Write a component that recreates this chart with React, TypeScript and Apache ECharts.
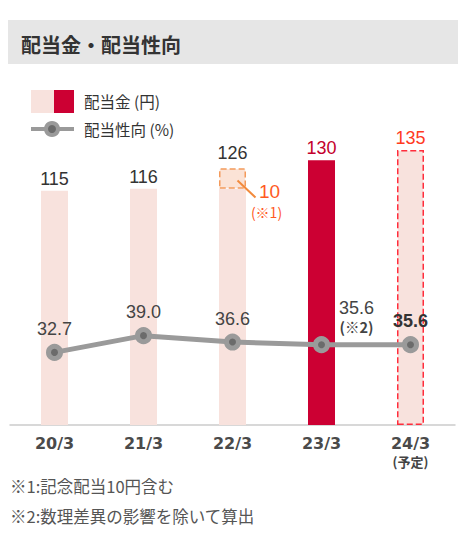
import React, { useEffect, useRef } from "react";
import * as echarts from "echarts";

const categories = ["20/3", "21/3", "22/3", "23/3", "24/3"];
const dividends = [115, 116, 126, 130, 135];
const commemorative = [0, 0, 10, 0, 0];
const payoutRatio = [32.7, 39.0, 36.6, 35.6, 35.6];
const footnotes = ["※1:記念配当10円含む", "※2:数理差異の影響を除いて算出"];

const FONT = "'Noto Sans CJK JP', 'Noto Sans', sans-serif";
const NUM = "'Liberation Sans', Arial, sans-serif";
const PINK = "#f8e2dd";
const RED = "#cc0033";

const DividendChart: React.FC = () => {
  const chartRef = useRef<HTMLDivElement>(null);

  useEffect(() => {
    if (!chartRef.current) return;
    const chart = echarts.init(chartRef.current, undefined, { renderer: "svg" });

    const baseData = dividends.map((v, i) => {
      const item: any = { value: v - commemorative[i], itemStyle: { color: PINK } };
      let labelColor = "#333";
      if (i === 3) {
        item.itemStyle = { color: RED };
        labelColor = "#c4002b";
      }
      if (i === 4) {
        item.itemStyle = { color: PINK, borderColor: "#ff2d3c", borderType: "dashed", borderWidth: 1.5 };
        labelColor = "#ff3b1f";
      }
      item.label = { show: commemorative[i] === 0, color: labelColor };
      return item;
    });

    const extraData = commemorative.map((v) => (v > 0 ? v : "-"));

    const lineData = payoutRatio.map((v, i) => {
      if (i === 3) {
        return {
          value: v,
          label: {
            formatter: "{a|" + v.toFixed(1) + "}\n{b|(※2)}",
            offset: [35, 4],
            rich: {
              a: { fontSize: 18, color: "#444", fontFamily: NUM, lineHeight: 19 },
              b: { fontSize: 14.5, color: "#444", fontFamily: FONT, fontWeight: "bold", lineHeight: 17, padding: [2, 0, 0, 0] },
            },
          },
        };
      }
      if (i === 4) {
        return { value: v, label: { fontWeight: "bold", color: "#333" } };
      }
      return v;
    });

    const option: any = {
      animation: false,
      textStyle: { fontFamily: FONT },
      grid: { left: 10, right: 11, top: 150, bottom: 123 },
      xAxis: {
        type: "category",
        data: categories,
        axisLine: { lineStyle: { color: "#cccccc", width: 1.5 } },
        axisTick: { show: false },
        axisLabel: {
          interval: 0,
          margin: 9,
          fontSize: 16,
          fontWeight: "bold",
          color: "#4a4a4a",
          fontFamily: "'DejaVu Sans', sans-serif",
          formatter: (val: string, idx: number) =>
            idx === categories.length - 1 ? val + "\n{s|(予定)}" : val,
          rich: { s: { fontSize: 13, color: "#444", fontFamily: FONT, lineHeight: 18 } },
          lineHeight: 18,
        },
      },
      yAxis: [
        { type: "value", min: 0, max: 135, show: false, splitLine: { show: false } },
        { type: "value", min: 5.4, max: 108.8, show: false, splitLine: { show: false } },
      ],
      series: [
        {
          name: "配当金",
          type: "bar",
          stack: "div",
          barWidth: 27,
          data: baseData,
          label: { show: true, position: "top", distance: 3, fontSize: 18, fontFamily: NUM },
        },
        {
          name: "記念配当",
          type: "bar",
          stack: "div",
          barWidth: 27,
          data: extraData,
          itemStyle: { color: "#fbe3d6", borderColor: "#f49a5b", borderType: "dashed", borderWidth: 1.5 },
          label: {
            show: true,
            position: "top",
            distance: 6,
            fontSize: 18,
            color: "#333",
            fontFamily: NUM,
            formatter: (p: any) => String(dividends[p.dataIndex]),
          },
        },
        {
          name: "配当性向",
          type: "line",
          yAxisIndex: 1,
          data: lineData,
          symbol: "circle",
          symbolSize: 12,
          lineStyle: { color: "#9a9a9a", width: 5 },
          itemStyle: { color: "#6b6b6b", borderColor: "#9a9a9a", borderWidth: 5 },
          label: {
            show: true,
            position: "top",
            distance: 6,
            fontSize: 18,
            color: "#444",
            fontFamily: NUM,
            formatter: (p: any) => Number(p.value).toFixed(1),
          },
          z: 5,
        },
      ],
    };

    chart.setOption(option);

    // annotation for the commemorative part, placed through the chart's own scales
    const idx = commemorative.findIndex((v) => v > 0);
    const mid = chart.convertToPixel({ seriesIndex: 1 }, [idx, dividends[idx] - commemorative[idx] / 2]);
    const cx = mid[0];
    const cy = mid[1];

    const graphic: any[] = [
      { type: "rect", shape: { x: 8, y: 20, width: 450, height: 44 }, style: { fill: "#e6e6e6" }, silent: true },
      {
        type: "text",
        x: 21,
        y: 44,
        style: { text: "配当金・配当性向", fontSize: 20, fontWeight: "bold", fill: "#333", fontFamily: FONT, verticalAlign: "middle" },
      },
      { type: "rect", shape: { x: 31, y: 90, width: 23, height: 23 }, style: { fill: PINK } },
      { type: "rect", shape: { x: 54, y: 90, width: 20, height: 23 }, style: { fill: RED } },
      {
        type: "text",
        x: 84,
        y: 101,
        style: { text: "配当金 (円)", fontSize: 15.5, fill: "#333", fontFamily: FONT, verticalAlign: "middle" },
      },
      { type: "line", shape: { x1: 31, y1: 129, x2: 74, y2: 129 }, style: { stroke: "#9a9a9a", lineWidth: 4 } },
      { type: "circle", shape: { cx: 52, cy: 129, r: 6 }, style: { fill: "#6b6b6b", stroke: "#9a9a9a", lineWidth: 4 } },
      {
        type: "text",
        x: 84,
        y: 129,
        style: { text: "配当性向 (%)", fontSize: 15.5, fill: "#333", fontFamily: FONT, verticalAlign: "middle" },
      },
      {
        type: "line",
        shape: { x1: cx + 5, y1: cy + 2, x2: cx + 23, y2: cy + 19 },
        style: { stroke: "#f28a3c", lineWidth: 2 },
        z: 10,
      },
      {
        type: "text",
        x: cx + 37,
        y: cy + 13,
        style: { text: String(commemorative[idx]), fontSize: 19, fill: "#ff5a1f", fontFamily: NUM, align: "center", verticalAlign: "middle" },
        z: 10,
      },
      {
        type: "text",
        x: cx + 34,
        y: cy + 33,
        style: { text: "(※1)", fontSize: 14, fill: "#ff5a1f", fontFamily: FONT, align: "center", verticalAlign: "middle" },
        z: 10,
      },
      ...footnotes.map((t, i) => ({
        type: "text",
        x: 10,
        y: 486 + i * 30,
        style: { text: t, fontSize: 16.5, fill: "#555", fontFamily: FONT, verticalAlign: "middle" },
      })),
    ];

    chart.setOption({ graphic });

    const handleResize = () => {
      chart.resize();
    };
    window.addEventListener("resize", handleResize);

    return () => {
      window.removeEventListener("resize", handleResize);
      chart.dispose();
    };
  }, []);

  return (
    <div
      ref={chartRef}
      style={{ position: "absolute", left: 0, top: 0, width: "466px", height: "548px" }}
    />
  );
};

export default function App() {
  return <DividendChart />;
}
